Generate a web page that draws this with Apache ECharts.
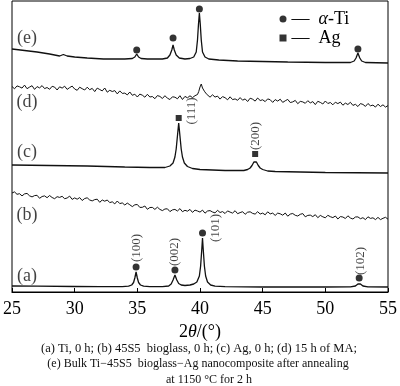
<!DOCTYPE html>
<html><head><meta charset="utf-8">
<script src="https://cdn.jsdelivr.net/npm/echarts@6/dist/echarts.min.js"></script>
<style>html,body{margin:0;padding:0;background:#fff}#c{width:400px;height:386px}</style>
</head><body><div id="c"></div>
<script>
// x: 2θ (degrees), y: stacked intensity (arbitrary units)
const xTicks = [25, 30, 35, 40, 45, 50, 55];
const curveA = [[25,6],[27,5.8],[30,5.5],[32,5.3],[33.8,5.3],[34.3,5.8],[34.55,7],[34.7,9.5],[34.8,14],[34.9,20],[35.0,14],[35.1,9.5],[35.25,7],[35.5,5.8],[36,5.3],[37,5.3],[37.5,6],[37.7,8],[37.85,12],[38.0,17],[38.15,12],[38.3,8.5],[38.5,7],[38.8,6.5],[39.2,7],[39.5,8],[39.75,10],[39.95,16],[40.05,26],[40.15,44],[40.2,54],[40.25,44],[40.35,26],[40.45,16],[40.6,10],[40.85,7],[41.2,5.8],[42,5.3],[45,5],[50,5],[52,5.2],[52.4,6],[52.6,8],[52.7,9],[52.8,8],[53,6],[53.4,5.2],[55,5]];
const curveB = [[25.0,99.0],[25.2,100.1],[25.4,97.7],[25.6,98.3],[25.8,96.1],[26.0,98.1],[26.2,98.6],[26.4,96.2],[26.6,95.1],[26.8,96.4],[27.0,96.7],[27.2,93.7],[27.4,95.5],[27.6,96.1],[27.8,94.3],[28.0,96.5],[28.2,94.5],[28.4,93.3],[28.6,95.3],[28.8,94.6],[29.0,95.7],[29.2,93.3],[29.4,94.0],[29.6,95.9],[29.8,92.6],[30.0,94.1],[30.2,92.8],[30.4,94.4],[30.6,91.5],[30.8,93.5],[31.0,94.2],[31.2,92.0],[31.4,91.1],[31.6,92.4],[31.8,92.8],[32.0,89.7],[32.2,92.0],[32.4,90.8],[32.6,92.0],[32.8,89.4],[33.0,90.2],[33.2,88.1],[33.4,91.0],[33.6,88.4],[33.8,89.1],[34.0,87.0],[34.2,88.9],[34.4,87.2],[34.6,85.4],[34.8,87.2],[35.0,87.5],[35.2,84.6],[35.4,84.7],[35.6,86.0],[35.8,82.7],[36.0,84.5],[36.2,84.6],[36.4,82.6],[36.6,84.8],[36.8,82.6],[37.0,81.4],[37.2,83.0],[37.4,83.2],[37.6,80.4],[37.8,82.1],[38.0,82.6],[38.2,81.0],[38.4,83.4],[38.6,80.3],[38.8,81.7],[39.0,80.8],[39.2,82.6],[39.4,79.6],[39.6,81.9],[39.8,81.0],[40.0,79.9],[40.2,81.9],[40.4,78.8],[40.6,81.0],[40.8,81.4],[41.0,80.0],[41.2,79.1],[41.4,81.7],[41.6,79.5],[41.8,80.4],[42.0,78.5],[42.2,81.1],[42.4,79.9],[42.6,78.9],[42.8,81.3],[43.0,78.3],[43.2,79.4],[43.4,80.3],[43.6,77.7],[43.8,79.8],[44.0,80.2],[44.2,78.6],[44.4,77.9],[44.6,80.3],[44.8,78.0],[45.0,78.9],[45.2,77.2],[45.4,80.2],[45.6,78.1],[45.8,78.9],[46.0,76.6],[46.2,78.9],[46.4,78.2],[46.6,76.8],[46.8,79.0],[47.0,75.8],[47.2,77.9],[47.4,78.5],[47.6,76.7],[47.8,76.0],[48.0,77.7],[48.2,78.4],[48.4,75.2],[48.6,76.6],[48.8,76.9],[49.0,75.4],[49.2,77.3],[49.4,74.3],[49.6,76.6],[49.8,75.2],[50.0,74.2],[50.2,76.7],[50.4,75.3],[50.6,74.4],[50.8,76.0],[51.0,73.0],[51.2,75.4],[51.4,75.0],[51.6,73.5],[51.8,76.2],[52.0,74.0],[52.2,73.0],[52.4,75.0],[52.6,75.1],[52.8,73.3],[53.0,74.3],[53.2,72.4],[53.4,75.2],[53.6,73.6],[53.8,74.2],[54.0,72.4],[54.2,74.6],[54.4,72.4],[54.6,73.7],[54.8,74.7],[55.0,72.8]];
const curveC = [[25,127],[28,126.5],[31,126],[34,125],[36,124.5],[37.2,124.5],[37.6,126],[37.85,129],[38.0,135],[38.1,143],[38.2,156],[38.3,169],[38.4,156],[38.5,143],[38.6,135],[38.75,129],[39.0,125.5],[39.4,123.5],[40,122.5],[42,121.5],[43.5,121.5],[43.8,122.5],[44.0,124],[44.15,126.5],[44.3,130],[44.4,132],[44.5,130],[44.65,126.5],[44.8,124],[45.0,122.5],[45.4,121],[46,120.5],[48,120],[50,119.5],[55,119]];
const curveD = [[25.0,205.5],[25.2,203.2],[25.4,206.1],[25.6,205.2],[25.8,203.9],[26.0,206.9],[26.2,203.3],[26.4,204.9],[26.6,206.3],[26.8,202.6],[27.0,205.4],[27.2,204.1],[27.4,206.4],[27.6,203.4],[27.8,204.5],[28.0,202.7],[28.2,205.7],[28.4,204.9],[28.6,202.0],[28.8,205.2],[29.0,203.9],[29.2,205.8],[29.4,202.6],[29.6,204.4],[29.8,205.9],[30.0,203.0],[30.2,201.7],[30.4,204.8],[30.6,203.3],[30.8,202.0],[31.0,204.8],[31.2,202.3],[31.4,203.6],[31.6,200.4],[31.8,203.9],[32.0,202.5],[32.2,201.1],[32.4,204.0],[32.6,199.8],[32.8,201.7],[33.0,200.5],[33.2,201.4],[33.4,198.1],[33.6,201.1],[33.8,198.6],[34.0,198.9],[34.2,197.1],[34.4,200.0],[34.6,196.7],[34.8,197.8],[35.0,195.0],[35.2,197.9],[35.4,196.8],[35.6,194.8],[35.8,197.7],[36.0,195.0],[36.2,195.5],[36.4,193.3],[36.6,196.4],[36.8,195.6],[37.0,193.5],[37.2,196.3],[37.4,193.8],[37.6,192.5],[37.8,195.2],[38.0,194.8],[38.2,193.2],[38.4,196.3],[38.6,192.5],[38.8,195.6],[39.0,194.2],[39.2,196.2],[39.4,194.4],[39.6,196.3],[39.8,197.5],[39.9,200.5],[40.0,205],[40.1,208],[40.2,204],[40.35,200.8],[40.5,198.2],[40.6,198.0],[40.8,194.8],[41.0,197.2],[41.2,194.9],[41.4,195.9],[41.6,192.9],[41.8,195.4],[42.0,194.3],[42.2,192.2],[42.4,195.2],[42.6,192.4],[42.8,193.1],[43.0,191.7],[43.2,194.4],[43.4,191.8],[43.6,193.1],[43.8,190.5],[44.0,193.8],[44.2,192.8],[44.4,190.9],[44.6,194.0],[44.8,191.5],[45.0,192.2],[45.2,190.4],[45.4,193.1],[45.6,192.3],[45.8,189.6],[46.0,192.4],[46.2,190.9],[46.4,192.8],[46.6,189.6],[46.8,191.2],[47.0,192.6],[47.2,189.5],[47.4,190.1],[47.6,191.6],[47.8,188.3],[48.0,190.6],[48.2,190.1],[48.4,188.7],[48.6,191.3],[48.8,189.1],[49.0,190.4],[49.2,187.4],[49.4,190.7],[49.6,189.6],[49.8,188.0],[50.0,191.0],[50.2,188.5],[50.4,189.5],[50.6,187.2],[50.8,189.8],[51.0,188.4],[51.2,189.9],[51.4,186.8],[51.6,188.9],[51.8,187.5],[52.0,189.7],[52.2,186.6],[52.4,187.7],[52.6,185.5],[52.8,188.4],[53.0,187.6],[53.2,185.6],[53.4,188.5],[53.6,186.2],[53.8,186.9],[54.0,184.9],[54.2,187.8],[54.4,185.5],[54.6,187.2],[54.8,184.9],[55.0,186.4]];
const curveE = [[25,243],[26,241.5],[27,240],[28,238],[28.8,236],[29.1,237.5],[29.4,236],[30,235],[31,234],[32.3,233],[34,233],[34.6,233.5],[34.8,235],[34.95,238],[35.1,235],[35.3,233.5],[35.8,233],[37,233],[37.4,234],[37.6,237],[37.75,242],[37.85,247],[37.95,242],[38.1,237],[38.35,234],[38.8,233],[39.2,233.5],[39.5,235],[39.7,240],[39.8,252],[39.88,268],[39.95,279],[40.02,268],[40.1,252],[40.2,240],[40.4,235],[40.7,233],[41.5,232],[43,231],[45,230.5],[47,230],[50,229.5],[52,229.5],[52.3,231],[52.45,234],[52.6,239],[52.75,234],[52.9,231],[53.2,229.5],[55,229]];
const tiMarks = [[34.9,25],[38.0,22],[40.2,59],[52.7,14],[34.95,242],[37.85,254],[39.95,283],[52.6,243]];
const agMarks = [[38.3,174],[44.4,138]];
const peakLabels = [[34.9,44,'(100)'],[38.0,40,'(002)'],[41.25,64,'(101)'],[52.8,31,'(102)'],[39.3,181,'(111)'],[44.45,156,'(200)']];
const curveLabels = [[26.2,16,'(a)'],[26.2,77,'(b)'],[26.2,140,'(c)'],[26.2,190,'(d)'],[26.2,254,'(e)']];
const legendNames = ['α-Ti', 'Ag'];
const captionLines = ['(a) Ti, 0 h; (b) 45S5  bioglass, 0 h; (c) Ag, 0 h; (d) 15 h of MA;','(e) Bulk Ti\u221245S5  bioglass\u2212Ag nanocomposite after annealing','at 1150 \u00b0C for 2 h'];

const FF = '"Liberation Serif","Times New Roman",serif';
const chart = echarts.init(document.getElementById('c'), null, {renderer:'canvas'});
function lineSeries(d, w){return {type:'line',data:d,showSymbol:false,symbol:'none',lineStyle:{color:'#111',width:w},silent:true,z:2};}
const option = {
  animation:false,
  backgroundColor:'#fff',
  grid:{left:7,right:9,top:1,bottom:94,show:true,borderColor:'#000',borderWidth:1},
  xAxis:{type:'value',min:25,max:55,interval:5,
    axisLine:{lineStyle:{color:'#000',width:1.2}},
    axisTick:{inside:true,length:4,lineStyle:{color:'#000'}},
    splitLine:{show:false},
    axisLabel:{color:'#000',fontSize:18,fontFamily:FF,margin:8,formatter:v=>xTicks.includes(v)?String(v):''},
    name:'2{i|θ}/(°)',nameLocation:'middle',nameGap:28,
    nameTextStyle:{color:'#000',fontSize:18,fontFamily:FF,rich:{i:{fontStyle:'italic',fontSize:18,fontFamily:FF,color:'#000'}}}
  },
  yAxis:{type:'value',min:0,max:291,show:false},
  legend:{orient:'vertical',left:274.5,top:5,itemGap:1,itemWidth:7,itemHeight:7,itemTextGap:5,
    data:legendNames,
    textStyle:{color:'#000',fontSize:18,fontFamily:FF,lineHeight:18,rich:{i:{fontStyle:'italic',fontSize:18,fontFamily:FF,color:'#000'}}},
    formatter:n=>n==='α-Ti'?'\u2014  {i|α}-Ti':'\u2014  '+n,
    itemStyle:{borderWidth:0,color:'#000'}
  },
  graphic:captionLines.map((t,i)=>({type:'text',x:[199,198,209][i],y:[349,364,380][i],silent:true,
    style:{text:t,fill:'#111',font:[12.5,12,12][i]+'px '+FF,textAlign:'center',textVerticalAlign:'middle'}})),
  series:[
    lineSeries(curveA,1.3),lineSeries(curveB,1.0),lineSeries(curveC,1.3),lineSeries(curveD,1.0),lineSeries(curveE,1.3),
    {name:legendNames[0],type:'scatter',data:tiMarks,symbol:'circle',symbolSize:7,itemStyle:{color:'#000'},z:3,legendIcon:'circle'},
    {name:legendNames[1],type:'scatter',data:agMarks,symbol:'rect',symbolSize:6,itemStyle:{color:'#000'},z:3,legendIcon:'rect'},
    {type:'scatter',data:peakLabels,symbolSize:0.1,itemStyle:{color:'rgba(0,0,0,0)'},silent:true,
     label:{show:true,position:'inside',rotate:90,formatter:p=>p.data[2],color:'#111',fontSize:13,fontFamily:FF}},
    {type:'scatter',data:curveLabels,symbolSize:0.1,itemStyle:{color:'rgba(0,0,0,0)'},silent:true,
     label:{show:true,position:'inside',formatter:p=>p.data[2],color:'#111',fontSize:18,fontFamily:FF}}
  ]
};
chart.setOption(option);
</script></body></html>
